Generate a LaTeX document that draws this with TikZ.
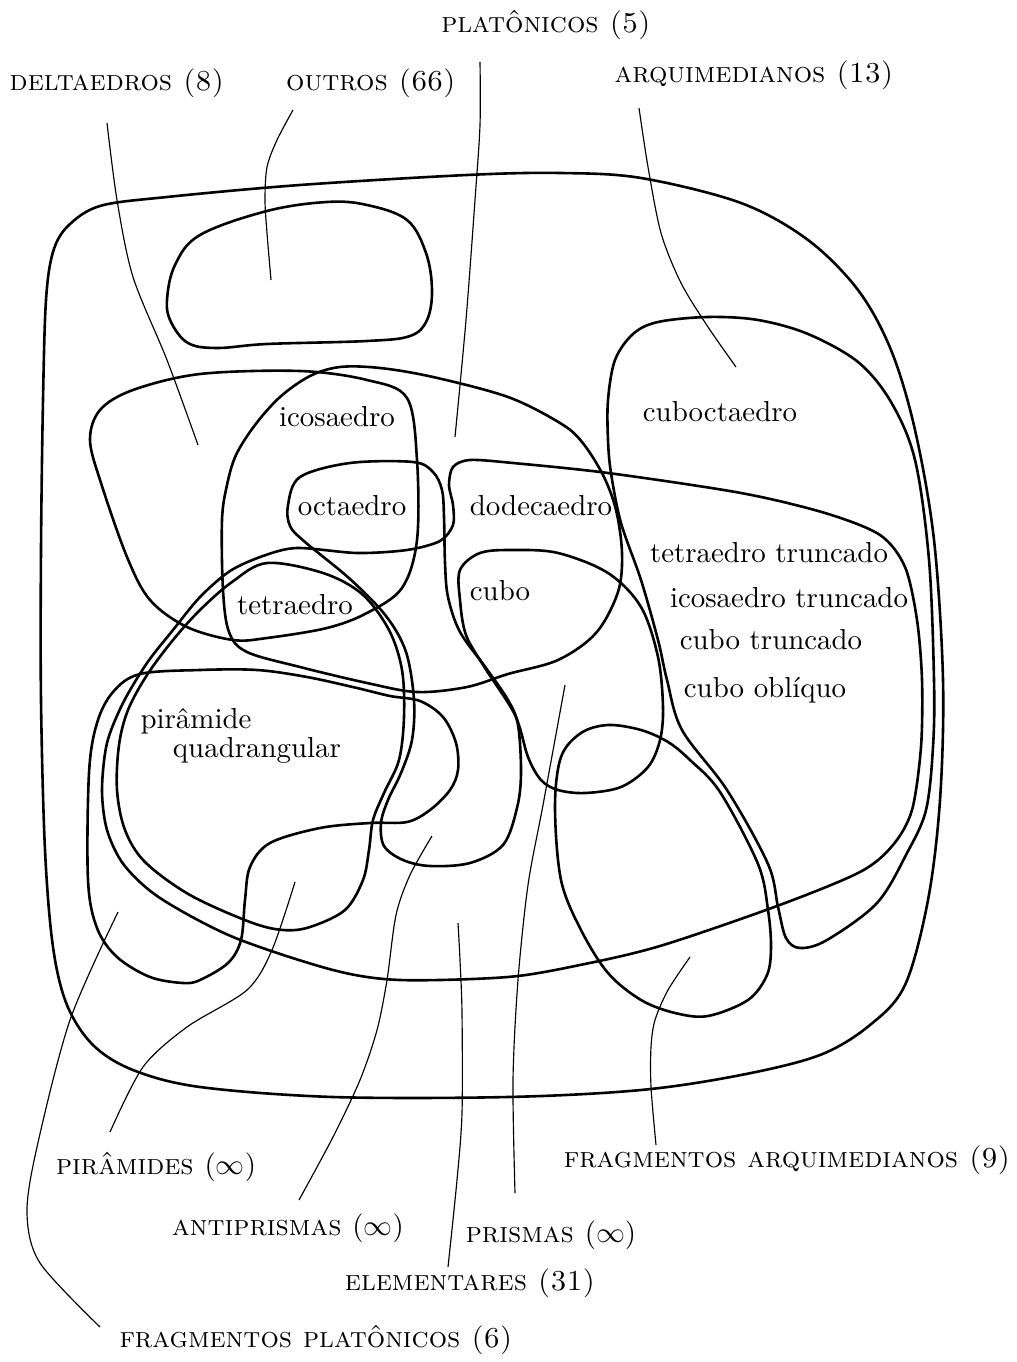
\documentclass[tikz,border=0pt]{standalone}
\usepackage{fontspec}
\begin{document}
\begin{tikzpicture}[x=0.01216cm,y=-0.01216cm,
  region/.style={line width=0.9pt,line join=round},
  leader/.style={line width=0.4pt},
  class/.style={inner sep=0pt,font=\scshape},
  item/.style={inner sep=0pt,anchor=base}]
\useasboundingbox (0,0) rectangle (1016,1362);

% ---------- regions ----------
% universe
\draw[region] plot[smooth cycle,tension=0.55] coordinates {
 (100,206) (167,197) (300,185) (467,175) (560,173) (641,178) (741,203) (808,240)
 (858,290) (891,350) (915,430) (934,540) (943,680) (940,800) (928,900) (905,985)
 (870,1025) (820,1055) (741,1075) (641,1090) (508,1097) (333,1097) (200,1087)
 (133,1070) (93,1045) (67,1005) (53,947) (45,850) (41,700) (41,550) (43,400)
 (46,300) (53,252) (68,226)};
% outros
\draw[region] plot[smooth cycle,tension=0.6] coordinates {
 (167,300) (175,265) (200,235) (267,211) (327,202) (367,205) (407,220) (426,253)
 (432,290) (427,320) (410,336) (367,341) (267,344) (217,348) (188,343) (171,322)};
% deltaedros
\draw[region] plot[smooth cycle,tension=0.55] coordinates {
 (100,410) (133,390) (200,374) (300,371) (367,380) (407,398) (417,460) (417,540)
 (402,588) (367,613) (327,628) (267,638) (233,640) (187,627) (150,600) (127,557)
 (101,483) (90,440)};
% platonicos
\draw[region] plot[smooth cycle,tension=0.55] coordinates {
 (236,455) (255,425) (280,397) (310,376) (340,367) (380,368) (433,377) (508,397)
 (560,423) (582,442) (603,475) (616,510) (622,553) (618,592) (596,633) (558,660)
 (508,674) (467,687) (417,692) (367,683) (300,667) (247,652) (229,632) (223,590)
 (222,520) (227,485)};
% arquimedianos
\draw[region] plot[smooth cycle,tension=0.55] coordinates {
 (608,440) (611,473) (621,523) (641,580) (658,640) (667,680) (682,730) (727,790)
 (768,864) (778,907) (786,938) (800,948) (827,940) (877,903) (907,853) (926,810)
 (933,747) (934,680) (929,560) (915,460) (891,402) (858,362) (808,334) (758,320)
 (708,317) (658,322) (633,334) (615,360) (608,400)};
% elementares
\draw[region] plot[smooth cycle,tension=0.5] coordinates {
 (470,460) (513,463) (608,473) (741,493) (825,513) (880,535) (905,567)
 (917,620) (922,680) (921,747) (912,810) (893,845) (860,872) (777,906) (660,946)
 (580,965) (508,977) (400,980) (333,970) (233,937) (160,898) (124,865) (107,830)
 (102,790) (107,743) (123,703) (147,663) (173,630) (200,597) (230,571) (263,556)
 (297,548) (357,553) (407,550) (440,541) (453,525) (453,505) (449,485) (453,467)};
% antiprismas
\draw[region] plot[smooth cycle,tension=0.55] coordinates {
 (350,463) (413,462) (433,472) (442,490) (444,517) (445,563) (448,597) (460,632)
 (486,668) (508,700) (518,725) (521,773) (517,808) (503,845) (470,863) (430,866)
 (403,860) (384,846) (381,823) (388,800) (401,773) (412,740) (414,700) (406,652)
 (386,616) (350,579) (305,542) (290,526) (288,505) (300,477)};
% piramides
\draw[region] plot[smooth cycle,tension=0.55] coordinates {
 (267,563) (323,573) (362,594) (389,630) (402,670) (404,717) (399,760) (384,793)
 (373,820) (369,850) (363,880) (345,910) (310,927) (283,930) (250,922) (190,895)
 (145,862) (125,830) (117,790) (119,745) (128,710) (147,675) (173,640) (200,610)
 (232,582)};
% fragmentos platonicos
\draw[region] plot[smooth cycle,tension=0.55] coordinates {
 (88,880) (89,773) (97,723) (113,692) (140,674) (200,670) (257,670) (307,677)
 (357,688) (390,696) (420,701) (443,717) (456,743) (458,770) (450,790) (430,810)
 (407,822) (370,823) (320,828) (270,843) (250,867) (245,900) (241,940) (228,963)
 (200,980) (183,983) (150,977) (117,957) (97,928)};
% prismas
\draw[region] plot[smooth cycle,tension=0.55] coordinates {
 (460,570) (480,553) (513,550) (558,553) (608,573) (641,607) (658,657) (663,707)
 (660,740) (648,767) (621,787) (585,793) (558,790) (541,780) (528,757) (515,715)
 (485,668) (466,635) (460,600)};
% fragmentos arquimedianos
\draw[region] plot[smooth cycle,tension=0.55] coordinates {
 (555,807) (561,757) (581,733) (608,725) (641,730) (668,742) (690,760) (720,792)
 (758,864) (768,910) (771,947) (767,975) (748,1000) (708,1016) (675,1013)
 (641,1000) (608,973) (581,930) (561,880)};

% ---------- polyhedra ----------
\node[item] (icosa) at (337,427) {icosaedro};
\node[item] (octa) at (352,515) {octaedro};
\node[item] (dodeca) at (541,515) {dodecaedro};
\node[item] (tetra) at (295,614) {tetraedro};
\node[item] (cubo) at (500,600) {cubo};
\node[item] (cubocta) at (720,422) {cuboctaedro};
\node[item] (ttrunc) at (769,562) {tetraedro truncado};
\node[item] (itrunc) at (789,607) {icosaedro truncado};
\node[item] (ctrunc) at (771,649) {cubo truncado};
\node[item] (cobliq) at (765,697) {cubo oblíquo};
\node[item] (piram1) at (196,728) {pirâmide};
\node[item] (piram2) at (257,757) {quadrangular};

% ---------- class labels ----------
\node[class] (platl) at (546,25) {platônicos (5)};
\node[class] (deltl) at (117,83) {deltaedros (8)};
\node[class] (outl) at (371,83) {outros (66)};
\node[class] (arql) at (754,75) {arquimedianos (13)};
\node[class] (piral) at (156,1167) {pirâmides $(\infty)$};
\node[class] (antil) at (288,1228) {antiprismas $(\infty)$};
\node[class] (prisl) at (551,1235) {prismas $(\infty)$};
\node[class] (elel) at (470,1283) {elementares (31)};
\node[class] (farl) at (787,1160) {fragmentos arquimedianos (9)};
\node[class] (fpll) at (316,1340) {fragmentos platônicos (6)};

% ---------- leader ends ----------
\coordinate (plat-a) at (480,62);   \coordinate (plat-b) at (455,437);
\coordinate (delt-a) at (107,123);  \coordinate (delt-b) at (198,445);
\coordinate (out-a) at (293,110);   \coordinate (out-b) at (271,280);
\coordinate (arq-a) at (639,108);   \coordinate (arq-b) at (736,367);
\coordinate (pira-a) at (110,1132); \coordinate (pira-b) at (295,882);
\coordinate (anti-a) at (299,1200); \coordinate (anti-b) at (432,836);
\coordinate (pris-a) at (515,1193); \coordinate (pris-b) at (565,685);
\coordinate (ele-a) at (448,1267);  \coordinate (ele-b) at (458,923);
\coordinate (far-a) at (656,1145);  \coordinate (far-b) at (690,957);
\coordinate (fpl-a) at (100,1327);  \coordinate (fpl-b) at (118,912);

\draw[leader] plot[smooth] coordinates {(plat-a) (480,125) (475,200) (466,320) (plat-b)};
\draw[leader] plot[smooth] coordinates {(delt-a) (117,200) (133,277) (167,360) (delt-b)};
\draw[leader] plot[smooth] coordinates {(out-a) (277,140) (267,167) (265,200) (267,233) (out-b)};
\draw[leader] plot[smooth] coordinates {(arq-a) (648,167) (661,233) (681,283) (708,327) (arq-b)};
\draw[leader] plot[smooth] coordinates {(pira-a) (143,1067) (187,1027) (247,990) (272,950) (pira-b)};
\draw[leader] plot[smooth] coordinates {(anti-a) (333,1137) (360,1080) (377,1030) (387,980) (396,915) (410,875) (anti-b)};
\draw[leader] plot[smooth] coordinates {(pris-a) (513,1080) (518,980) (528,885) (543,805) (pris-b)};
\draw[leader] plot[smooth] coordinates {(ele-a) (457,1180) (462,1113) (462,1013) (460,960) (ele-b)};
\draw[leader] plot[smooth] coordinates {(far-a) (651,1087) (651,1047) (655,1020) (668,990) (far-b)};
\draw[leader] plot[smooth] coordinates {(fpl-a) (40,1263) (27,1213) (37,1147) (70,1020) (fpl-b)};
\end{tikzpicture}
\end{document}
